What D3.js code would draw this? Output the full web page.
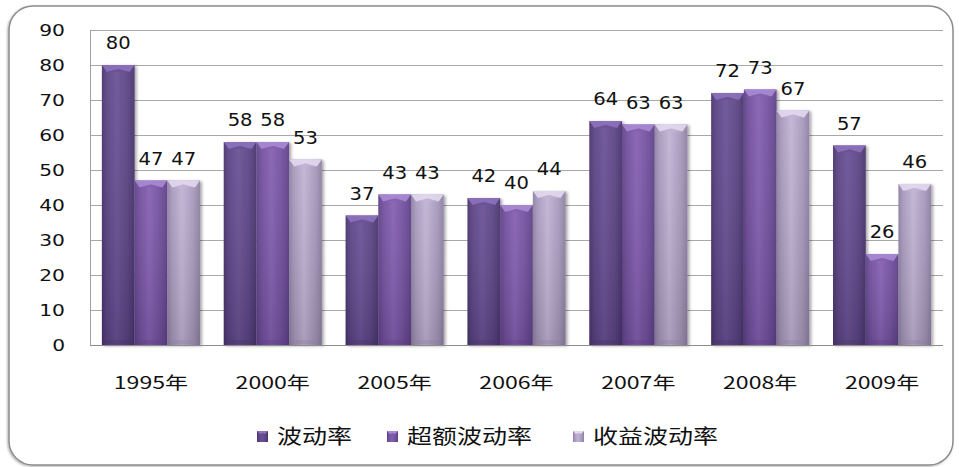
<!DOCTYPE html>
<html>
<head>
<meta charset="utf-8">
<script src="https://cdn.jsdelivr.net/npm/d3@7"></script>
<style>
  html, body { margin: 0; padding: 0; background: #fff; }
  svg { display: block; }
  text { font-family: "DejaVu Sans", Verdana, sans-serif; fill: #111; }
  .cjk { font-family: "Noto Sans CJK SC", "DejaVu Sans", sans-serif; }
</style>
</head>
<body>
<svg id="chart" width="959" height="467"></svg>
<script>
// Volatility by year (three measures)
const categories = ["1995年", "2000年", "2005年", "2006年", "2007年", "2008年", "2009年"];
const seriesNames = ["波动率", "超额波动率", "收益波动率"];
const volatility = [80, 58, 37, 42, 64, 72, 57];
const excessVolatility = [47, 58, 43, 40, 63, 73, 26];
const returnVolatility = [47, 53, 43, 44, 63, 67, 46];
const yTicks = [0, 10, 20, 30, 40, 50, 60, 70, 80, 90];

const seriesValues = [volatility, excessVolatility, returnVolatility];
const palette = [
  { edge: "#47336b", mid: "#6a5196", top: "#8d72bb", base: "#5a4283" },
  { edge: "#5e3f88", mid: "#8460b2", top: "#a98ad4", base: "#6f4e9b" },
  { edge: "#8d80a3", mid: "#c0b3d4", top: "#e2d9ef", base: "#a698bb" }
];

const svg = d3.select("#chart");
const defs = svg.append("defs");

// Soft shadow for the frame and the bars
const shadow = defs.append("filter").attr("id", "shadow")
  .attr("x", "-20%").attr("y", "-20%").attr("width", "140%").attr("height", "140%");
shadow.append("feDropShadow").attr("dx", 2).attr("dy", 1).attr("stdDeviation", 1.5)
  .attr("flood-color", "#000").attr("flood-opacity", 0.35);

const frameShadow = defs.append("filter").attr("id", "frameShadow")
  .attr("x", "-5%").attr("y", "-5%").attr("width", "110%").attr("height", "110%");
frameShadow.append("feDropShadow").attr("dx", -1).attr("dy", 1).attr("stdDeviation", 1)
  .attr("flood-color", "#000").attr("flood-opacity", 0.3);

// Cylinder-like horizontal shading per series
palette.forEach((c, i) => {
  const g = defs.append("linearGradient").attr("id", "bar" + i)
    .attr("x1", "0%").attr("x2", "100%").attr("y1", "0%").attr("y2", "0%");
  g.append("stop").attr("offset", "0%").attr("stop-color", c.edge);
  g.append("stop").attr("offset", "14%").attr("stop-color", c.base);
  g.append("stop").attr("offset", "45%").attr("stop-color", c.mid);
  g.append("stop").attr("offset", "80%").attr("stop-color", c.base);
  g.append("stop").attr("offset", "100%").attr("stop-color", c.edge);
  const v = defs.append("linearGradient").attr("id", "shade" + i)
    .attr("x1", "0%").attr("x2", "0%").attr("y1", "0%").attr("y2", "100%");
  v.append("stop").attr("offset", "0%").attr("stop-color", "#fff").attr("stop-opacity", 0.06);
  v.append("stop").attr("offset", "100%").attr("stop-color", "#000").attr("stop-opacity", 0.12);
});

// Outer rounded frame
svg.append("rect")
  .attr("x", 9).attr("y", 6).attr("width", 944).attr("height", 459).attr("rx", 24)
  .attr("fill", "#fff").attr("stroke", "#8c8c8c").attr("stroke-width", 1.5)
  .attr("filter", "url(#frameShadow)");

const plot = { left: 90, right: 943, top: 30, bottom: 345 };

const x = d3.scaleBand().domain(categories).range([plot.left, plot.right]).padding(0);
const groupFrac = 0.805;
const xs = d3.scaleBand().domain(d3.range(seriesNames.length))
  .range([0, x.bandwidth() * groupFrac]).padding(0);
const y = d3.scaleLinear().domain([0, 90]).range([plot.bottom, plot.top]);

// Horizontal gridlines
svg.append("g").selectAll("line").data(yTicks.filter(t => t > 0)).join("line")
  .attr("x1", plot.left).attr("x2", plot.right)
  .attr("y1", d => Math.round(y(d)) + 0.5).attr("y2", d => Math.round(y(d)) + 0.5)
  .attr("stroke", "#a8a8a8").attr("stroke-width", 1);

// Value axis (labels only, with the vertical line)
const yAxis = d3.axisLeft(y).tickValues(yTicks).tickSize(0).tickPadding(0);
const yg = svg.append("g").attr("transform", `translate(${plot.left},0)`).call(yAxis);
yg.select(".domain").remove();
yg.selectAll(".tick text")
  .attr("x", null).attr("dy", null)
  .attr("text-anchor", "end")
  .attr("fill", "#111")
  .style("font-size", "15px")
  .style("font-family", "DejaVu Sans, sans-serif")
  .attr("transform", "translate(-25,5.5) scale(1.35,1)");
svg.append("line").attr("x1", plot.left + 0.5).attr("x2", plot.left + 0.5)
  .attr("y1", plot.top).attr("y2", plot.bottom).attr("stroke", "#a0a0a0");

// Bars
const groups = svg.append("g").selectAll("g").data(categories).join("g")
  .attr("transform", d => `translate(${x(d) + x.bandwidth() * (1 - groupFrac) / 2},0)`);

const w = xs.bandwidth();
seriesNames.forEach((name, si) => {
  const bars = groups.append("g").datum((d, ci) => ({ cat: d, value: seriesValues[si][ci], si }));
  bars.append("rect")
    .attr("x", xs(si)).attr("width", w)
    .attr("y", d => y(d.value)).attr("height", d => y(0) - y(d.value))
    .attr("fill", `url(#bar${si})`).attr("filter", "url(#shadow)");
  bars.append("rect")
    .attr("x", xs(si)).attr("width", w)
    .attr("y", d => y(d.value)).attr("height", d => y(0) - y(d.value))
    .attr("fill", `url(#shade${si})`);
  // bevelled top
  bars.append("path")
    .attr("d", d => {
      const x0 = xs(si), x1 = xs(si) + w, yt = y(d.value);
      return `M${x0},${yt} L${x1},${yt} L${x1 - 5},${yt + 7} L${x0 + w / 2},${yt + 4} L${x0 + 5},${yt + 7} Z`;
    })
    .attr("fill", palette[si].top).attr("opacity", 0.9);
  bars.append("path")
    .attr("d", d => {
      const x0 = xs(si), yt = y(d.value);
      return `M${x0 + 5},${yt + 7} L${x0 + w / 2},${yt + 4} L${x0 + w - 5},${yt + 7} Z`;
    })
    .attr("fill", palette[si].mid).attr("opacity", 0.8);
  // bevelled base
  bars.append("rect")
    .attr("x", xs(si) + 4).attr("width", w - 8)
    .attr("y", y(0) - 5).attr("height", 4)
    .attr("fill", palette[si].edge).attr("opacity", 0.35);
  // value labels
  bars.append("text")
    .attr("text-anchor", "middle")
    .style("font-size", "17px")
    .attr("transform", d => `translate(${xs(si) + w / 2},${y(d.value) - 16}) scale(1.15,1)`)
    .text(d => d.value);
});

// Category axis
svg.append("line").attr("x1", plot.left).attr("x2", plot.right)
  .attr("y1", plot.bottom + 0.5).attr("y2", plot.bottom + 0.5).attr("stroke", "#8c8c8c");
svg.append("g").selectAll("text").data(categories).join("text")
  .attr("class", "cjk")
  .attr("text-anchor", "middle")
  .style("font-size", "17.5px")
  .attr("transform", d => `translate(${x(d) + x.bandwidth() / 2},${389}) scale(1.32,1)`)
  .text(d => d);

// Legend
const legendX = [257, 387, 573];
const legend = svg.append("g").selectAll("g").data(seriesNames).join("g")
  .attr("transform", (d, i) => `translate(${legendX[i]},437)`);
legend.append("rect").attr("x", 0).attr("y", -6).attr("width", 11).attr("height", 11)
  .attr("fill", (d, i) => `url(#bar${i})`);
legend.append("path")
  .attr("d", "M0,-6 L11,-6 L8,-3 L5.5,-4 L3,-3 Z")
  .attr("fill", (d, i) => palette[i].top);
legend.append("text")
  .attr("class", "cjk")
  .style("font-size", "20px")
  .attr("transform", "translate(20,7) scale(1.25,1)")
  .text(d => d);
</script>
</body>
</html>
